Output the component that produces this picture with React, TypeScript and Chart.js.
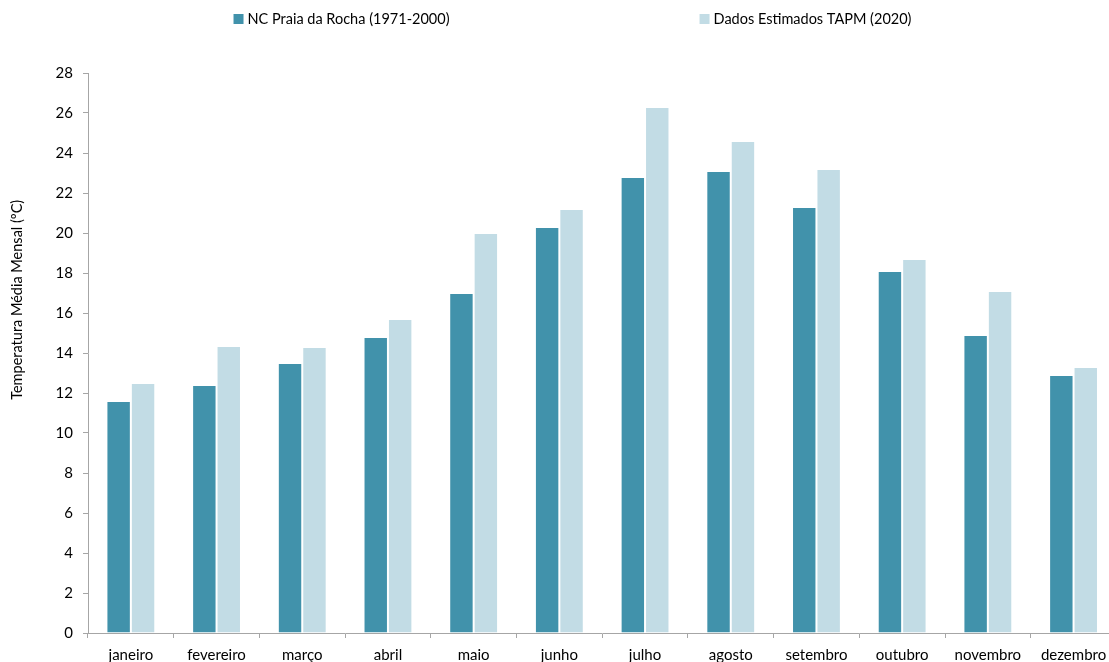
import React, { useEffect, useRef } from "react";
import { Chart, registerables } from "chart.js";

Chart.register(...registerables);

const categories = [
  "janeiro", "fevereiro", "março", "abril", "maio", "junho",
  "julho", "agosto", "setembro", "outubro", "novembro", "dezembro",
];
const ncPraiaDaRocha = [11.6, 12.4, 13.5, 14.8, 17.0, 20.3, 22.8, 23.1, 21.3, 18.1, 14.9, 12.9];
const tapm2020 = [12.5, 14.35, 14.3, 15.7, 20.0, 21.2, 26.3, 24.6, 23.2, 18.7, 17.1, 13.3];
const seriesNames = ["NC Praia da Rocha (1971-2000)", "Dados Estimados TAPM (2020)"];
const yTitle = "Temperatura Média Mensal (ºC)";
const yMin = 0;
const yMax = 28;
const yStep = 2;

const FONT = "Lato, 'Open Sans', sans-serif";
const W = 1145;
const H = 680;

const legendPlugin = {
  id: "customLegend",
  afterDraw(chart: any) {
    const ctx = chart.ctx;
    ctx.save();
    ctx.font = `14.5px ${FONT}`;
    ctx.textBaseline = "middle";
    ctx.fillStyle = "#000";
    const box = 10;
    const gapBoxText = 4;
    const gap = 250;
    const items = chart.data.datasets.map((ds: any) => ({
      label: ds.label,
      color: ds.backgroundColor,
      w: box + gapBoxText + ctx.measureText(ds.label).width,
    }));
    const total = items.reduce((s: number, it: any) => s + it.w, 0) + gap * (items.length - 1);
    let x = chart.width / 2 - total / 2;
    const y = 19;
    items.forEach((it: any) => {
      ctx.fillStyle = it.color;
      ctx.fillRect(x, y - box / 2, box, box);
      ctx.fillStyle = "#000";
      ctx.textAlign = "left";
      ctx.fillText(it.label, x + box + gapBoxText, y + 0.5);
      x += it.w + gap;
    });
    ctx.restore();
  },
};

const yTitlePlugin = {
  id: "yTitle",
  afterDraw(chart: any) {
    const ctx = chart.ctx;
    const a = chart.chartArea;
    ctx.save();
    ctx.font = `14.5px ${FONT}`;
    ctx.fillStyle = "#000";
    ctx.textAlign = "center";
    ctx.textBaseline = "middle";
    ctx.translate(17, a.top + a.height * 0.405);
    ctx.rotate(-Math.PI / 2);
    ctx.fillText(yTitle, 0, 0);
    ctx.restore();
  },
};

export default function App() {
  const ref = useRef<HTMLCanvasElement>(null);

  useEffect(() => {
    document.documentElement.style.overflow = "hidden";
    document.body.style.margin = "0";
    document.body.style.overflow = "hidden";
    const canvas = ref.current!;
    const chart = new Chart(canvas, {
      type: "bar",
      data: {
        labels: categories,
        datasets: [
          {
            label: seriesNames[0],
            data: ncPraiaDaRocha,
            backgroundColor: "#4192AB",
            borderColor: "rgba(255,255,255,0.15)",
            borderWidth: 1,
            categoryPercentage: 0.57,
            barPercentage: 1.0,
          },
          {
            label: seriesNames[1],
            data: tapm2020,
            backgroundColor: "#C2DCE5",
            borderColor: "rgba(255,255,255,0.3)",
            borderWidth: 1,
            categoryPercentage: 0.57,
            barPercentage: 1.0,
          },
        ],
      },
      options: {
        responsive: false,
        animation: false,
        devicePixelRatio: 1,
        layout: { padding: { top: 73, right: 28.6, bottom: 0, left: 0 } },
        plugins: {
          legend: { display: false },
          tooltip: { enabled: false },
          title: { display: false },
        },
        scales: {
          x: {
            offset: true,
            grid: {
              display: true,
              drawOnChartArea: false,
              drawTicks: true,
              tickLength: 5,
              color: "#a6a6a6",
              offset: true,
            },
            border: { display: true, color: "#a6a6a6", width: 1 },
            ticks: {
              color: "#000",
              font: { family: FONT, size: 15 },
              padding: 8,
              maxRotation: 0,
              autoSkip: false,
            },
            afterFit(scale: any) {
              scale.height = 47;
            },
          },
          y: {
            min: yMin,
            max: yMax,
            grid: {
              display: true,
              drawOnChartArea: false,
              drawTicks: true,
              tickLength: 5,
              color: "#a6a6a6",
            },
            border: { display: true, color: "#a6a6a6", width: 1 },
            ticks: {
              stepSize: yStep,
              color: "#000",
              font: { family: FONT, size: 15 },
              padding: 10,
            },
            afterFit(scale: any) {
              scale.width = 88;
            },
          },
        },
      },
      plugins: [legendPlugin, yTitlePlugin],
    } as any);
    return () => chart.destroy();
  }, []);

  return (
    <div style={{ position: "absolute", left: 0, top: 0, width: W, height: H }}>
      <canvas ref={ref} width={W} height={H} style={{ display: "block" }} />
    </div>
  );
}
